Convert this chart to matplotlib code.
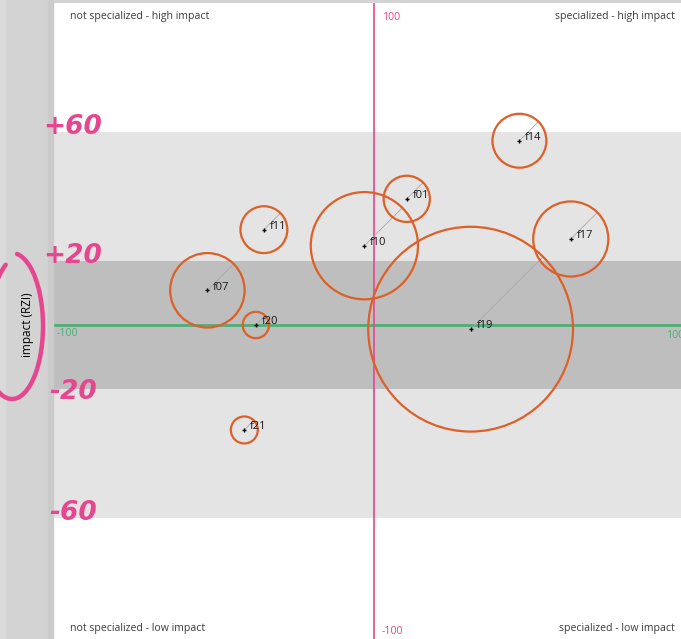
import matplotlib
matplotlib.use('Agg')
import matplotlib.pyplot as plt
from matplotlib.patches import Circle, Arc, Rectangle
import numpy as np

# bubbles: specialization (x) vs impact (RZI, y), bubble radius in data units
names = ['f01', 'f07', 'f10', 'f11', 'f14', 'f17', 'f19', 'f20', 'f21']
spec = [10.2, -51.9, -3.0, -34.3, 45.3, 61.3, 30.1, -36.8, -40.4]
impact = [39.3, 10.8, 24.7, 29.7, 57.4, 26.8, -1.3, 0.0, -32.7]
radius = [7.2, 11.6, 16.7, 7.3, 8.4, 11.7, 31.9, 4.1, 4.2]

band_ticks = ['+60', '+20', '-20', '-60']
band_vals = [60, 20, -20, -60]

W, H = 681, 639
PX = 3.21          # pixels per data unit
X0, Y0 = 374, 325  # pixel position of (0, 0)
AX_LEFT, AX_TOP = 53, 3

PINK = '#e6468e'
GREEN = '#4fae78'
ORANGE = '#dc6027'
GREYTXT = '#3c3c3c'

fig = plt.figure(figsize=(W / 100, H / 100), dpi=100)
fig.patch.set_facecolor('#d3d3d3')

# left strip shades
fig.patches.append(Rectangle((0, 0), 5 / W, 1, transform=fig.transFigure,
                             color='#dadada', zorder=0))
fig.patches.append(Rectangle((48 / W, 0), 5 / W, 1, transform=fig.transFigure,
                             color='#cbcbcb', zorder=0))

ax = fig.add_axes([AX_LEFT / W, 0, (W - AX_LEFT) / W, (H - AX_TOP) / H])
ax.set_xlim((AX_LEFT - X0) / PX, (W - X0) / PX)
ax.set_ylim((Y0 - H) / PX, (Y0 - AX_TOP) / PX)
ax.set_axis_off()
ax.add_patch(Rectangle((0, 0), 1, 1, transform=ax.transAxes, color='white', zorder=0))

ax.axhspan(-60, 60, color='#e4e4e4', lw=0, zorder=1)
ax.axhspan(-20, 20, color='#bebebe', lw=0, zorder=1)
ax.axhline(0, color=GREEN, lw=2, zorder=2)
ax.axvline(0, color=PINK, lw=1.2, zorder=2)

for n, x, y, r in zip(names, spec, impact, radius):
    ax.add_patch(Circle((x, y), r, fill=False, ec=ORANGE, lw=1.6, zorder=4))
    d = r * np.cos(np.pi / 4)
    ax.plot([x, x + d], [y, y + d], color='#a8a8a8', lw=0.6, zorder=3)
    ax.plot(x, y, marker='+', color='black', ms=3.5, mew=1, zorder=5)
    ax.text(x + 1.8, y + 1.0, n, fontsize=8, family='Open Sans',
            color='#1a1a1a', ha='left', va='center', zorder=6)


def ftext(px, py, s, **kw):
    fig.text(px / W, 1 - py / H, s, **kw)


# quadrant labels
q = dict(fontsize=7.6, family='Open Sans', color=GREYTXT, va='center')
ftext(70, 16, 'not specialized - high impact', ha='left', **q)
ftext(675, 16, 'specialized - high impact', ha='right', **q)
ftext(70, 629, 'not specialized - low impact', ha='left', **q)
ftext(675, 629, 'specialized - low impact', ha='right', **q)

# axis end labels (the green 100 runs off the right edge, as in the original)
ftext(382, 18, '100', fontsize=7.6, family='Open Sans', color=PINK, va='center')
ftext(382, 631, '-100', fontsize=7.6, family='Open Sans', color=PINK, va='center')
ftext(57, 333, '-100', fontsize=7.6, family='Open Sans', color=GREEN, va='center')
ftext(666, 336, '100', fontsize=7.6, family='Open Sans', color=GREEN, va='center')

# band values in the left margin
for lab, v in zip(band_ticks, band_vals):
    py = Y0 - v * PX + (3 if v == -20 else -5)
    ftext(73, py, lab, fontsize=19, fontweight='heavy', family='DejaVu Sans',
          color=PINK, ha='center', va='center', style='italic')

# y axis title with hand-drawn loop
ftext(27, 325, 'impact (RZI)', fontsize=8.5, family='Open Sans', color='black',
      rotation=90, ha='center', va='center')
ell = dict(transform=None, fill=False, ec=PINK, lw=3.2, zorder=10, capstyle='round')
fig.patches.append(Arc((12, H - 326), 62, 146, angle=0, theta1=-112, theta2=86, **ell))
fig.patches.append(Arc((22, H - 330), 66, 150, angle=0, theta1=104, theta2=130, **ell))

fig.savefig('out.png', dpi=100, facecolor=fig.get_facecolor())
